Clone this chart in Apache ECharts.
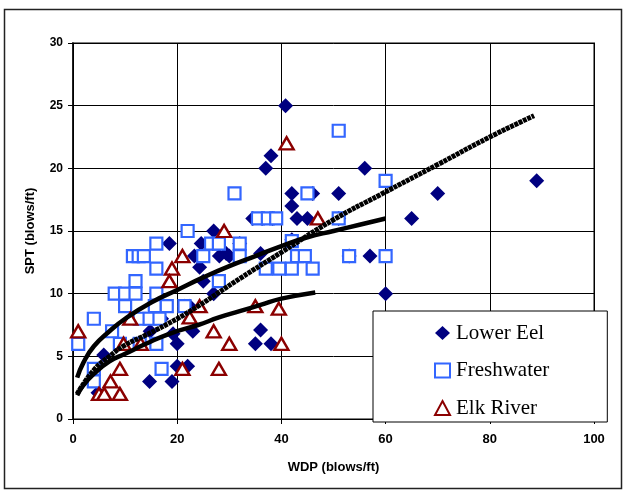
<!DOCTYPE html>
<html>
<head>
<meta charset="utf-8">
<script src="https://cdn.jsdelivr.net/npm/echarts/dist/echarts.min.js"></script>
<style>
  html, body { margin: 0; padding: 0; background: #fff; }
  #chart { width: 626px; height: 491px; }
</style>
</head>
<body>
<div id="chart"></div>
<script>
// values: [WDP, SPT]
const lowerEel = [
  [40.8, 25], [38, 21], [37, 20], [56, 20], [42, 18], [46, 18], [51, 18], [70, 18], [89, 19],
  [42, 17], [34.5, 16], [36.3, 16], [38.3, 16], [43, 16], [45, 16], [51, 16], [65, 16],
  [27, 15], [18.5, 14], [24.6, 14], [26.8, 14], [32, 14], [42, 14.3],
  [23.3, 13], [28.1, 13], [30, 13], [29.4, 13.2], [36, 13.2], [53, 13], [57, 13],
  [24.3, 12.1], [25, 11], [27, 10], [60, 10], [21.4, 9], [22.4, 9], [17, 8], [14.8, 7],
  [23, 7], [36, 7.1], [20, 6], [35, 6], [38, 6], [19.2, 6.8], [5.9, 5.1],
  [20, 4.2], [22, 4.2], [14.7, 3], [19, 3], [4.8, 2.1]
]
const freshwater = [
  [51, 23], [31, 18], [45, 18], [60, 19], [35.5, 16], [37.4, 16], [39, 16], [51, 16],
  [22, 15], [16, 14], [26.5, 14], [28, 14], [32, 14], [42, 14.2],
  [11.5, 13], [12.6, 13], [13.6, 13], [25, 13], [32, 13], [43, 13], [44.5, 13], [53, 13], [60, 13],
  [16, 12], [37, 12], [39.6, 12], [42, 12], [46, 12], [12, 11], [28, 11],
  [8, 10], [10, 10], [12, 10], [16, 10], [10, 9], [15.7, 9], [18, 9], [21.4, 9],
  [4, 8], [12.8, 8], [14.7, 8], [16.6, 8], [7.5, 7], [1, 6], [9, 6], [12.8, 6], [16, 6],
  [4, 4], [17, 4], [4, 3]
]
const elkRiver = [
  [41, 22], [47, 16], [29, 15], [21, 13], [19, 12], [18.5, 11], [24.3, 9], [35, 9], [39.5, 8.8],
  [22.4, 8.1], [11, 8], [1, 7], [27, 7], [9.7, 6], [13, 6], [30, 6], [40, 6],
  [21, 4], [28, 4], [9, 4], [7.2, 3], [5, 2], [6, 2], [9, 2]
]

// trend lines, points
const trendUpper = [
  [0.8, 3.3], [2, 4.5], [4, 5.8], [7, 7.0], [10, 8.0], [15, 9.3], [20, 10.3], [25, 11.3],
  [30, 12.2], [35, 13.0], [40, 13.8], [45, 14.5], [50, 15.0], [55, 15.5], [60, 16.0]
]
const trendDotted = [
  [0.8, 2.0], [4, 3.9], [7, 5.0], [10, 5.9], [14, 6.7], [20, 8.0], [24, 9.0], [28, 10.1],
  [32, 11.2], [40, 13.3], [50, 15.9], [59, 17.9], [70, 20.3], [80, 22.5], [88.5, 24.2]
]
const trendLower = [
  [0.8, 1.9], [2, 2.7], [4, 3.6], [7, 4.6], [10, 5.2], [14, 6.0], [18.5, 6.8], [24, 7.5],
  [28, 8.1], [32, 8.6], [36, 9.1], [40, 9.6], [46.5, 10.1]
]

const seriesNames = ['Lower Eel', 'Freshwater', 'Elk River']

const chart = echarts.init(document.getElementById('chart'))

const axisText = {
  color: '#000',
  fontFamily: 'Liberation Sans, Arial',
  fontWeight: 'bold',
  fontSize: 13
}

chart.setOption({
  animation: false,
  graphic: [{
    type: 'rect',
    shape: { x: 4.5, y: 9.5, width: 617, height: 479 },
    style: { fill: 'none', stroke: '#222', lineWidth: 1.5 },
    z: -1
  }],
  grid: {
    left: 73,
    top: 43,
    right: 32,
    bottom: 72,
    show: true,
    borderColor: '#808080',
    borderWidth: 2
  },
  legend: {
    data: seriesNames,
    orient: 'vertical',
    left: 373,
    top: 311,
    padding: [11, 58, 3, 61],
    itemGap: 15.5,
    itemWidth: 15,
    itemHeight: 14,
    backgroundColor: '#fff',
    borderColor: '#000',
    borderWidth: 1,
    textStyle: {
      fontFamily: 'Liberation Serif, Times New Roman',
      fontSize: 21,
      lineHeight: 22,
      color: '#000',
      padding: [0, 0, 0, 1]
    },
    z: 10
  },
  xAxis: {
    type: 'value',
    min: 0,
    max: 100,
    interval: 20,
    name: 'WDP (blows/ft)',
    nameLocation: 'middle',
    nameGap: 42,
    nameTextStyle: axisText,
    axisLine: { lineStyle: { color: '#000', width: 1 } },
    axisTick: { show: true, length: 5, lineStyle: { color: '#000' } },
    axisLabel: Object.assign({ margin: 14 }, axisText),
    splitLine: { lineStyle: { color: '#000', width: 1 } }
  },
  yAxis: {
    type: 'value',
    min: 0,
    max: 30,
    interval: 5,
    name: 'SPT (blows/ft)',
    nameLocation: 'middle',
    nameGap: 36,
    nameTextStyle: axisText,
    axisLine: { show: true, lineStyle: { color: '#000', width: 1.5 } },
    axisTick: { show: true, length: 5, lineStyle: { color: '#000' } },
    axisLabel: Object.assign({ margin: 10 }, axisText, { fontSize: 12 }),
    splitLine: { lineStyle: { color: '#000', width: 1 } }
  },
  series: [
    {
      name: 'Lower Eel',
      type: 'scatter',
      symbol: 'diamond',
      symbolSize: 15,
      itemStyle: { color: '#000080', opacity: 1 },
      data: lowerEel,
      z: 3
    },
    {
      name: 'Freshwater',
      type: 'scatter',
      symbol: 'rect',
      symbolSize: 12,
      itemStyle: { color: '#fff', borderColor: '#3366FF', borderWidth: 2.2, opacity: 1 },
      data: freshwater,
      z: 4
    },
    {
      name: 'Elk River',
      type: 'scatter',
      symbol: 'triangle',
      symbolSize: [14, 12],
      itemStyle: { color: '#fff', borderColor: '#8B0000', borderWidth: 2.4, opacity: 1 },
      data: elkRiver,
      z: 5
    },
    {
      type: 'line',
      data: trendUpper,
      smooth: true,
      symbol: 'none',
      lineStyle: { color: '#000', width: 4.5 },
      z: 6
    },
    {
      type: 'line',
      data: trendDotted,
      smooth: true,
      symbol: 'none',
      lineStyle: { color: '#000', width: 5, type: [4, 0.7] },
      z: 6
    },
    {
      type: 'line',
      data: trendLower,
      smooth: true,
      symbol: 'none',
      lineStyle: { color: '#000', width: 4.5 },
      z: 6
    }
  ]
})
</script>
</body>
</html>
